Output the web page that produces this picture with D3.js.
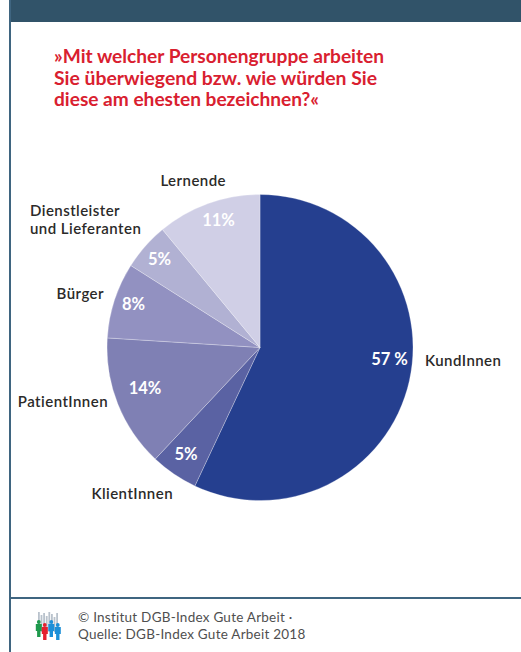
<!DOCTYPE html>
<html><head><meta charset="utf-8">
<script src="https://cdn.jsdelivr.net/npm/d3@7"></script>
<style>html,body{margin:0;padding:0;background:#fff}svg{display:block}
text{font-family:Lato,"Open Sans",sans-serif}</style></head><body>
<div id="c"></div>
<script>
const categories=["KundInnen","KlientInnen","PatientInnen","Bürger","Dienstleister|und Lieferanten","Lernende"];
const values=[57,5,14,8,5,11];
const valueLabels=["57 %","5%","14%","8%","5%","11%"];
const colors=["#253f8f","#5a62a3","#7f80b4","#9291c1","#b1b1d3","#d0cfe6"];
const labelX=[425,173,108,104,30,226];
const labelY=[366,499,407,299,234,186];
const labelAnchor=["start","end","end","end","start","end"];
const valueX=[389.5,186,145,133.5,159.5,218.5];
const valueY=[365,460,394,310,265,226];
const titleLines=["»Mit welcher Personengruppe arbeiten","Sie überwiegend bzw. wie würden Sie","diese am ehesten bezeichnen?«"];
const titleWidths=[330,323,265];
const sourceLines=["© Institut DGB-Index Gute Arbeit ·","Quelle: DGB-Index Gute Arbeit 2018"];
const logoBars=[20,17,19,16,20,18,15,19];
const logoPeople=[{c:"#1f9a4d",o:0,d:0},{c:"#e5202e",o:6,d:3},{c:"#1c8fd8",o:12.5,d:0},{c:"#1c8fd8",o:19,d:3}];
const W=521,H=652,cx=260,cy=347.5,R=153;
const svg=d3.select("#c").append("svg").attr("width",W).attr("height",H);
const frame="#315369";
svg.append("rect").attr("x",9).attr("y",0).attr("width",512).attr("height",22).attr("fill",frame);
svg.append("rect").attr("x",9).attr("y",0).attr("width",2).attr("height",H).attr("fill","#3f6580");
svg.append("rect").attr("x",9).attr("y",597).attr("width",512).attr("height",2).attr("fill","#3f6580");
svg.selectAll(".t").data(titleLines).join("text").attr("x",54).attr("y",(d,i)=>63+i*21.5)
 .attr("fill","#d9202f").attr("font-size",19).attr("font-weight",700)
 .attr("textLength",(d,i)=>titleWidths[i]).attr("lengthAdjust","spacingAndGlyphs").text(d=>d);
const pie=d3.pie().sort(null).value(d=>d);
const arc=d3.arc().innerRadius(0).outerRadius(R);
const g=svg.append("g").attr("transform",`translate(${cx},${cy})`);
g.selectAll("path").data(pie(values)).join("path").attr("d",arc).attr("fill",(d,i)=>colors[i])
 .attr("stroke","#fff").attr("stroke-opacity",0.45).attr("stroke-width",0.6);
svg.selectAll(".v").data(valueLabels).join("text").attr("class","v").attr("x",(d,i)=>valueX[i]).attr("y",(d,i)=>valueY[i])
 .attr("text-anchor","middle").attr("fill","#fff").attr("font-size",16.5).attr("font-weight",700).text(d=>d);
categories.forEach((c,i)=>{
 const lines=c.split("|");
 lines.forEach((l,j)=>svg.append("text").attr("x",labelX[i]).attr("y",labelY[i]-(lines.length-1-j)*18)
  .attr("text-anchor",labelAnchor[i]).attr("fill","#2b2a29").attr("font-size",15).attr("font-weight",600).attr("letter-spacing",0.45).text(l));
});
svg.selectAll(".s").data(sourceLines).join("text").attr("x",78).attr("y",(d,i)=>622+i*17)
 .attr("fill","#4f4f4f").attr("font-size",13.5).attr("letter-spacing",0.24).text(d=>d);
const logo=svg.append("g").attr("transform","translate(36,612)");
logo.selectAll("rect.b").data(logoBars).join("rect").attr("class","b").attr("x",(d,i)=>2+i*2.6).attr("y",d=>20-d).attr("width",1.8).attr("height",d=>d).attr("fill","#b9c2cc");
logoPeople.forEach(p=>{
 const f=logo.append("g").attr("transform",`translate(${p.o+2.8},${p.d})`);
 f.append("circle").attr("cx",0).attr("cy",10).attr("r",1.9).attr("fill",p.c);
 f.append("rect").attr("x",-3).attr("y",12).attr("width",6).attr("height",7).attr("fill",p.c);
 f.append("rect").attr("x",-1.7).attr("y",19).attr("width",3.4).attr("height",6).attr("fill",p.c);
});
</script></body></html>
